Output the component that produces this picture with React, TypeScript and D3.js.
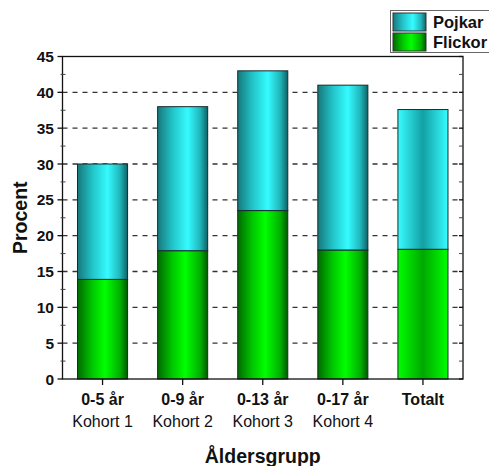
import React from "react";
import * as d3 from "d3";

// data
const categories = ["0-5 år", "0-9 år", "0-13 år", "0-17 år", "Totalt"];
const subLabels = ["Kohort 1", "Kohort 2", "Kohort 3", "Kohort 4", ""];
const flickor = [13.9, 17.9, 23.5, 18.0, 18.1];
const totals = [30.0, 38.0, 43.0, 41.0, 37.6];
const pojkar = totals.map((t, i) => +(t - flickor[i]).toFixed(1));
const yTicks = [0, 5, 10, 15, 20, 25, 30, 35, 40, 45];

const width = 489,
  height = 466,
  margin = { top: 56.5, right: 26, bottom: 87, left: 62.5 };

const font = "'Liberation Sans', Arial, sans-serif";

const App: React.FC = () => {
  const x = d3
    .scaleBand<string>()
    .domain(categories)
    .range([margin.left, width - margin.right])
    .paddingInner(0.375)
    .paddingOuter(0.1875);

  const y = d3
    .scaleLinear()
    .domain([0, 45])
    .range([height - margin.bottom, margin.top]);

  const minor = d3.range(2.5, 45, 5);
  const x0 = margin.left,
    x1 = width - margin.right,
    yb = y(0),
    yt = y(45);

  const stack = d3
    .stack<number>()
    .keys(["flickor", "pojkar"])
    .value((i, key) => (key === "flickor" ? flickor[i] : pojkar[i]));
  const series = stack(d3.range(categories.length));

  const fillFor = (key: string, i: number) => {
    const inv = categories[i] === "Totalt" ? "Inv" : "";
    return key === "flickor" ? `url(#green${inv})` : `url(#cyan${inv})`;
  };

  return (
    <svg
      width={width}
      height={height}
      style={{ position: "absolute", left: 0, top: 0, background: "#fff" }}
      fontFamily={font}
    >
      <defs>
        <linearGradient id="cyan" x1="0" x2="1" y1="0" y2="0">
          <stop offset="0" stopColor="#16787c" />
          <stop offset="0.3" stopColor="#22c4c8" />
          <stop offset="0.6" stopColor="#35fbff" />
          <stop offset="0.85" stopColor="#1fb5ba" />
          <stop offset="1" stopColor="#106266" />
        </linearGradient>
        <linearGradient id="green" x1="0" x2="1" y1="0" y2="0">
          <stop offset="0" stopColor="#006a00" />
          <stop offset="0.3" stopColor="#00c800" />
          <stop offset="0.55" stopColor="#00ff00" />
          <stop offset="0.85" stopColor="#00b000" />
          <stop offset="1" stopColor="#005a00" />
        </linearGradient>
        <linearGradient id="cyanInv" x1="0" x2="1" y1="0" y2="0">
          <stop offset="0" stopColor="#38fcff" />
          <stop offset="0.5" stopColor="#12a0a4" />
          <stop offset="1" stopColor="#38fcff" />
        </linearGradient>
        <linearGradient id="greenInv" x1="0" x2="1" y1="0" y2="0">
          <stop offset="0" stopColor="#00ff00" />
          <stop offset="0.5" stopColor="#00a800" />
          <stop offset="1" stopColor="#00ff00" />
        </linearGradient>
      </defs>

      {/* dashed gridlines */}
      {yTicks
        .filter((t) => t > 0 && t < 45)
        .map((t) => (
          <line
            key={"g" + t}
            x1={x0}
            x2={x1}
            y1={y(t)}
            y2={y(t)}
            stroke="#333"
            strokeWidth={1.3}
            strokeDasharray="5,5"
          />
        ))}

      {/* bars */}
      {series.map((s) =>
        s.map((d, i) => (
          <rect
            key={s.key + i}
            x={x(categories[i])!}
            y={y(d[1])}
            width={x.bandwidth()}
            height={y(d[0]) - y(d[1])}
            fill={fillFor(s.key, i)}
            stroke="#1a2a2a"
            strokeWidth={1}
          />
        ))
      )}

      {/* frame */}
      <rect
        x={x0}
        y={yt}
        width={x1 - x0}
        height={yb - yt}
        fill="none"
        stroke="#111"
        strokeWidth={1.3}
      />

      {/* y axis ticks, both sides */}
      {yTicks.map((t) => (
        <g key={"yl" + t}>
          <line x1={x0 - 5} x2={x0} y1={y(t)} y2={y(t)} stroke="#111" strokeWidth={1.3} />
          <line x1={x1 - 4} x2={x1} y1={y(t)} y2={y(t)} stroke="#111" strokeWidth={1.3} />
          <text
            x={x0 - 8.5}
            y={y(t)}
            dy="0.36em"
            textAnchor="end"
            fontSize={15.5}
            fontWeight="bold"
            fill="#111"
          >
            {t}
          </text>
        </g>
      ))}
      {minor.map((t) => (
        <g key={"ym" + t}>
          <line x1={x0 - 2} x2={x0 + 3} y1={y(t)} y2={y(t)} stroke="#444" strokeWidth={1} />
          <line x1={x1 - 4} x2={x1} y1={y(t)} y2={y(t)} stroke="#444" strokeWidth={1} />
        </g>
      ))}

      {/* x axis ticks + labels */}
      {categories.map((c, i) => {
        const cx = x(c)! + x.bandwidth() / 2;
        return (
          <g key={"x" + c}>
            <line x1={cx} x2={cx} y1={yb} y2={yb + 6} stroke="#111" strokeWidth={1.3} />
            <text x={cx} y={yb + 26} textAnchor="middle" fontSize={16} fontWeight="bold" fill="#111">
              {c}
            </text>
            {subLabels[i] && (
              <text x={cx} y={yb + 47.5} textAnchor="middle" fontSize={16} fill="#111">
                {subLabels[i]}
              </text>
            )}
          </g>
        );
      })}

      {/* axis titles */}
      <text
        transform={`translate(26.5,${(yt + yb) / 2}) rotate(-90)`}
        textAnchor="middle"
        fontSize={19.5}
        fontWeight="bold"
        fill="#111"
      >
        Procent
      </text>
      <text x={(x0 + x1) / 2} y={463} textAnchor="middle" fontSize={19.5} fontWeight="bold" fill="#111">
        Åldersgrupp
      </text>

      {/* legend */}
      <g>
        <rect x={390.5} y={10.5} width={110} height={42} fill="#fff" stroke="#666" strokeWidth={1} />
        <rect x={393} y={13} width={33} height={18} fill="url(#cyan)" stroke="#333" strokeWidth={1} />
        <rect x={393} y={33} width={33} height={18} fill="url(#green)" stroke="#333" strokeWidth={1} />
        <text x={433} y={27.5} fontSize={16.5} fontWeight="bold" fill="#111">
          Pojkar
        </text>
        <text x={433} y={47.5} fontSize={16.5} fontWeight="bold" fill="#111">
          Flickor
        </text>
      </g>
    </svg>
  );
};

export default App;
